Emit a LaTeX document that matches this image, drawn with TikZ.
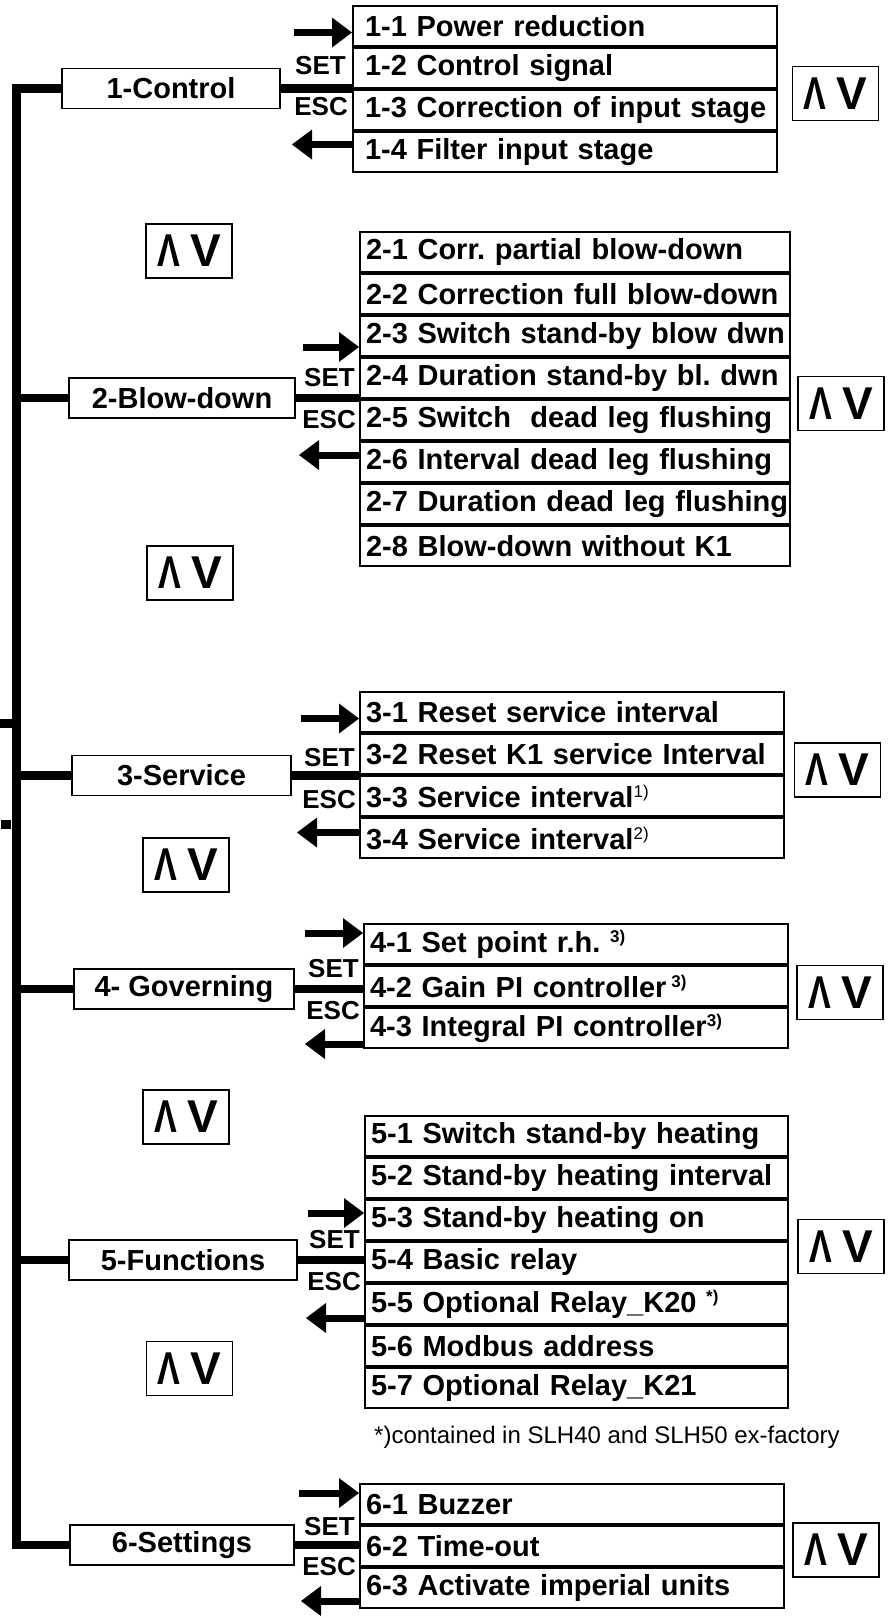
\documentclass[tikz,border=0pt]{standalone}
\usepackage{fontspec}
\setmainfont{Liberation Sans}
\usepackage{tikz}
\usetikzlibrary{
  arrows.meta,
  positioning,
  calc
}
\frenchspacing
\newcommand\rowfont{\fontsize{29}{34}\selectfont\bfseries}
\newcommand\keyfont{\fontsize{26}{30}\selectfont\bfseries}
\newcommand\fnmark[1]{\raisebox{10pt}{\fontsize{17}{17}\selectfont #1}}
\newcommand\updown{\scalebox{0.74}[1]{Λ}\hspace{10pt}V}
\tikzset{
  menubox/.style = {
    rectangle, draw, line width=1.6pt,
    minimum width=#1, minimum height=40pt,
    inner sep=0pt, font=\rowfont
  },
  menubox/.default = 224pt,
  itembox/.style = {
    rectangle, draw, line width=2pt,
    text width=#1, minimum height=40pt,
    inner xsep=6pt, inner ysep=0pt,
    align=left, font=\rowfont,
    execute at begin node=\hbox\bgroup,
    execute at end node=\egroup
  },
  itembox/.default = 412pt,
  widepad/.style = {inner xsep=12pt, text width=400pt},
  navbox/.style = {
    rectangle, draw, line width=1.6pt,
    minimum width=86pt, minimum height=54pt,
    inner sep=0pt, font=\fontsize{46}{46}\selectfont\bfseries
  },
  keylbl/.style = {font=\keyfont, inner sep=0pt},
  note/.style   = {font=\fontsize{24}{28}\selectfont, inner sep=0pt},
  bus/.style    = {line width=8.5pt, line join=miter},
  setarr/.style = {-{Triangle[length=20pt, width=30pt, line width=0pt]},
                   line width=7pt},
  escarr/.style = {setarr},
}

\begin{document}
\begin{tikzpicture}[x=1pt, y=1pt]
  \useasboundingbox (0,0) rectangle (890,-1618);

  % 1 Control
  \node[menubox=218pt] (c1) at (171,-88.5) {1-Control};
  \node[itembox, widepad, anchor=north west] (s11) at (352,-5)
    {1-1 Power reduction};
  \node[itembox, widepad, below=0pt of s11] (s12) {1-2 Control signal};
  \node[itembox, widepad, below=0pt of s12] (s13) {1-3 Correction of input stage};
  \node[itembox, widepad, below=0pt of s13] (s14) {1-4 Filter input stage};
  \node[navbox] (nav1) at (835.5,-93.5) {\updown};
  \node[navbox] (nav12) at (189,-251) {\updown};

  % 2 Blow-down
  \node[menubox=226pt] (c2) at (182,-398) {2-Blow-down};
  \node[itembox=418pt, anchor=north west] (s21) at (359,-231)
    {2-1 Corr. partial blow-down};
  \node[itembox=418pt, below=0pt of s21] (s22) {2-2 Correction full blow-down};
  \node[itembox=418pt, below=0pt of s22] (s23) {2-3 Switch stand-by blow dwn};
  \node[itembox=418pt, below=0pt of s23] (s24) {2-4 Duration stand-by bl. dwn};
  \node[itembox=418pt, below=0pt of s24] (s25) {2-5 Switch\ \ dead leg flushing};
  \node[itembox=418pt, below=0pt of s25] (s26) {2-6 Interval dead leg flushing};
  \node[itembox=418pt, below=0pt of s26] (s27) {2-7 Duration dead leg flushing};
  \node[itembox=418pt, below=0pt of s27] (s28) {2-8 Blow-down without K1};
  \node[navbox] (nav2) at (841,-403.5) {\updown};
  \node[navbox] (nav23) at (190,-573) {\updown};

  % 3 Service
  \node[menubox=219pt] (c3) at (181.5,-775.5) {3-Service};
  \node[itembox, anchor=north west] (s31) at (359,-691)
    {3-1 Reset service interval};
  \node[itembox, below=0pt of s31] (s32) {3-2 Reset K1 service Interval};
  \node[itembox, below=0pt of s32] (s33) {3-3 Service interval\fnmark{\mdseries 1)}};
  \node[itembox, below=0pt of s33] (s34) {3-4 Service interval\fnmark{\mdseries 2)}};
  \node[navbox] (nav3) at (837.5,-770) {\updown};
  \node[navbox] (nav34) at (186,-865) {\updown};

  % 4 Governing
  \node[menubox=220pt] (c4) at (184,-989) {4- Governing};
  \node[itembox, anchor=north west] (s41) at (363,-923)
    {4-1 Set point r.h. \fnmark{3)}};
  \node[itembox, below=0pt of s41] (s42) {4-2 Gain PI controller\,\fnmark{3)}};
  \node[itembox, below=0pt of s42] (s43) {4-3 Integral PI controller\fnmark{3)}};
  \node[navbox] (nav4) at (840,-992.5) {\updown};
  \node[navbox] (nav45) at (186,-1117) {\updown};

  % 5 Functions
  \node[menubox=228pt] (c5) at (183,-1260) {5-Functions};
  \node[itembox=411pt, anchor=north west] (s51) at (364,-1115)
    {5-1 Switch stand-by heating};
  \node[itembox=411pt, below=0pt of s51] (s52) {5-2 Stand-by heating interval};
  \node[itembox=411pt, below=0pt of s52] (s53) {5-3 Stand-by heating on};
  \node[itembox=411pt, below=0pt of s53] (s54) {5-4 Basic relay};
  \node[itembox=411pt, below=0pt of s54] (s55) {5-5 Optional Relay\_K20 \fnmark{*)}};
  \node[itembox=411pt, below=0pt of s55] (s56) {5-6 Modbus address};
  \node[itembox=411pt, below=0pt of s56] (s57) {5-7 Optional Relay\_K21};
  \node[navbox] (nav5) at (841,-1246.5) {\updown};
  \node[navbox] (nav56) at (189.5,-1368.5) {\updown};
  \node[note, below right=17pt and 10pt of s57.south west] (fn)
    {*)contained in SLH40 and SLH50 ex-factory};

  % 6 Settings
  \node[menubox=224pt] (c6) at (182,-1545) {6-Settings};
  \node[itembox, anchor=north west] (s61) at (359,-1483) {6-1 Buzzer};
  \node[itembox, below=0pt of s61] (s62) {6-2 Time-out};
  \node[itembox, below=0pt of s62] (s63) {6-3 Activate imperial units};
  \node[navbox] (nav6) at (836,-1550) {\updown};

  %% Spine and branches
  \coordinate (spine) at (16.5,0);
  \draw[bus] (c1.west) -| (spine |- c6.west) -- (c6.west);
  \draw[bus] (c2.west) -- (c2.west -| spine);
  \draw[bus] (c3.west) -- (c3.west -| spine);
  \draw[bus] (c4.west) -- (c4.west -| spine);
  \draw[bus] (c5.west) -- (c5.west -| spine);
  \fill (0,-719) rectangle (16.5,-728);
  \fill (1,-820) rectangle (11,-829);

  %% Menu to items, SET / ESC
  \coordinate (j1) at (c1.east -| s11.west);
  \coordinate (j2) at (c2.east -| s21.west);
  \coordinate (j3) at (c3.east -| s31.west);
  \coordinate (j4) at (c4.east -| s41.west);
  \coordinate (j5) at (c5.east -| s51.west);
  \coordinate (j6) at (c6.east -| s61.west);
  \draw[bus] (c1.east) -- (j1);
  \draw[bus] (c2.east) -- (j2);
  \draw[bus] (c3.east) -- (j3);
  \draw[bus] (c4.east) -- (j4);
  \draw[bus] (c5.east) -- (j5);
  \draw[bus] (c6.east) -- (j6);

  \node[keylbl, above left=14pt and 6pt of j1] (set1) {SET};
  \node[keylbl, below left=9pt and 4pt of j1]  (esc1) {ESC};
  \node[keylbl, above left=11pt and 4pt of j2] (set2) {SET};
  \node[keylbl, below left=12pt and 3pt of j2] (esc2) {ESC};
  \node[keylbl, above left=9pt and 4pt of j3]  (set3) {SET};
  \node[keylbl, below left=15pt and 3pt of j3] (esc3) {ESC};
  \node[keylbl, above left=11pt and 4pt of j4] (set4) {SET};
  \node[keylbl, below left=12pt and 3pt of j4] (esc4) {ESC};
  \node[keylbl, above left=11pt and 4pt of j5] (set5) {SET};
  \node[keylbl, below left=12pt and 3pt of j5] (esc5) {ESC};
  \node[keylbl, above left=9pt and 4pt of j6]  (set6) {SET};
  \node[keylbl, below left=12pt and 3pt of j6] (esc6) {ESC};

  %% Arrows
  \draw[setarr] ([shift={(-58pt,56pt)}]j1) -- ([yshift=56pt]j1);
  \draw[escarr] ([yshift=-56pt]j1) -- ([shift={(-60pt,-56pt)}]j1);
  \draw[setarr] ([shift={(-56pt,51pt)}]j2) -- ([yshift=51pt]j2);
  \draw[escarr] ([yshift=-57pt]j2) -- ([shift={(-60pt,-57pt)}]j2);
  \draw[setarr] ([shift={(-58pt,57pt)}]j3) -- ([yshift=57pt]j3);
  \draw[escarr] ([yshift=-57pt]j3) -- ([shift={(-62pt,-57pt)}]j3);
  \draw[setarr] ([shift={(-58pt,56pt)}]j4) -- ([yshift=56pt]j4);
  \draw[escarr] ([yshift=-55pt]j4) -- ([shift={(-58pt,-55pt)}]j4);
  \draw[setarr] ([shift={(-56pt,47pt)}]j5) -- ([yshift=47pt]j5);
  \draw[escarr] ([yshift=-58pt]j5) -- ([shift={(-58pt,-58pt)}]j5);
  \draw[setarr] ([shift={(-60pt,52pt)}]j6) -- ([yshift=52pt]j6);
  \draw[escarr] ([yshift=-56pt]j6) -- ([shift={(-58pt,-56pt)}]j6);

\end{tikzpicture}
\end{document}
